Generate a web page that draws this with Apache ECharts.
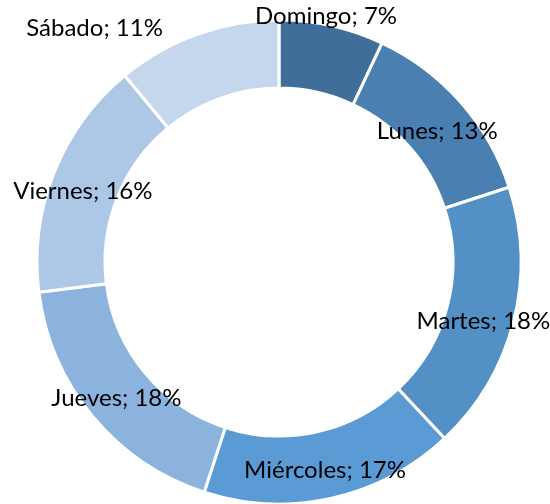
<!DOCTYPE html>
<html>
<head>
<meta charset="utf-8">
<script src="https://cdn.jsdelivr.net/npm/echarts@6/dist/echarts.min.js"></script>
<style>
  html, body { margin: 0; padding: 0; background: #fff; }
  #chart { width: 550px; height: 504px; }
</style>
</head>
<body>
<div id="chart"></div>
<script>
const days = ['Domingo', 'Lunes', 'Martes', 'Miércoles', 'Jueves', 'Viernes', 'Sábado']
const shares = [7, 13, 18, 17, 18, 16, 11]

// tonos de azul, del más oscuro al más claro
const palette = ['#3f6e9a', '#4a7fb2', '#5290c6', '#5b9bd5', '#8cb3de', '#adc7e6', '#c5d7ec']

// ajustes de etiquetas (las de Domingo y Sábado fueron movidas en el original)
const labelShift = {
  0: { dx: 1, dy: -40 },
  1: { dy: 9 },
  2: { dy: 7 },
  3: { dy: 2 },
  4: { dy: 2 },
  5: { dy: 7 },
  6: { dx: -113, dy: -35 },
}

const chart = echarts.init(document.getElementById('chart'))

chart.setOption({
  animation: false,
  series: [{
    type: 'pie',
    center: [279, 262],
    radius: [174, 242],
    startAngle: 90,
    clockwise: true,
    data: days.map((d, i) => ({
      name: d,
      value: shares[i],
      itemStyle: { color: palette[i] },
    })),
    itemStyle: { borderColor: '#fff', borderWidth: 3 },
    label: {
      show: true,
      position: 'inside',
      formatter: (p) => `${p.name}; ${p.value}%`,
      color: '#000',
      fontFamily: 'Lato',
      fontSize: 24,
    },
    labelLine: { show: false },
    labelLayout: (params) => labelShift[params.dataIndex] || {},
  }],
})
</script>
</body>
</html>
